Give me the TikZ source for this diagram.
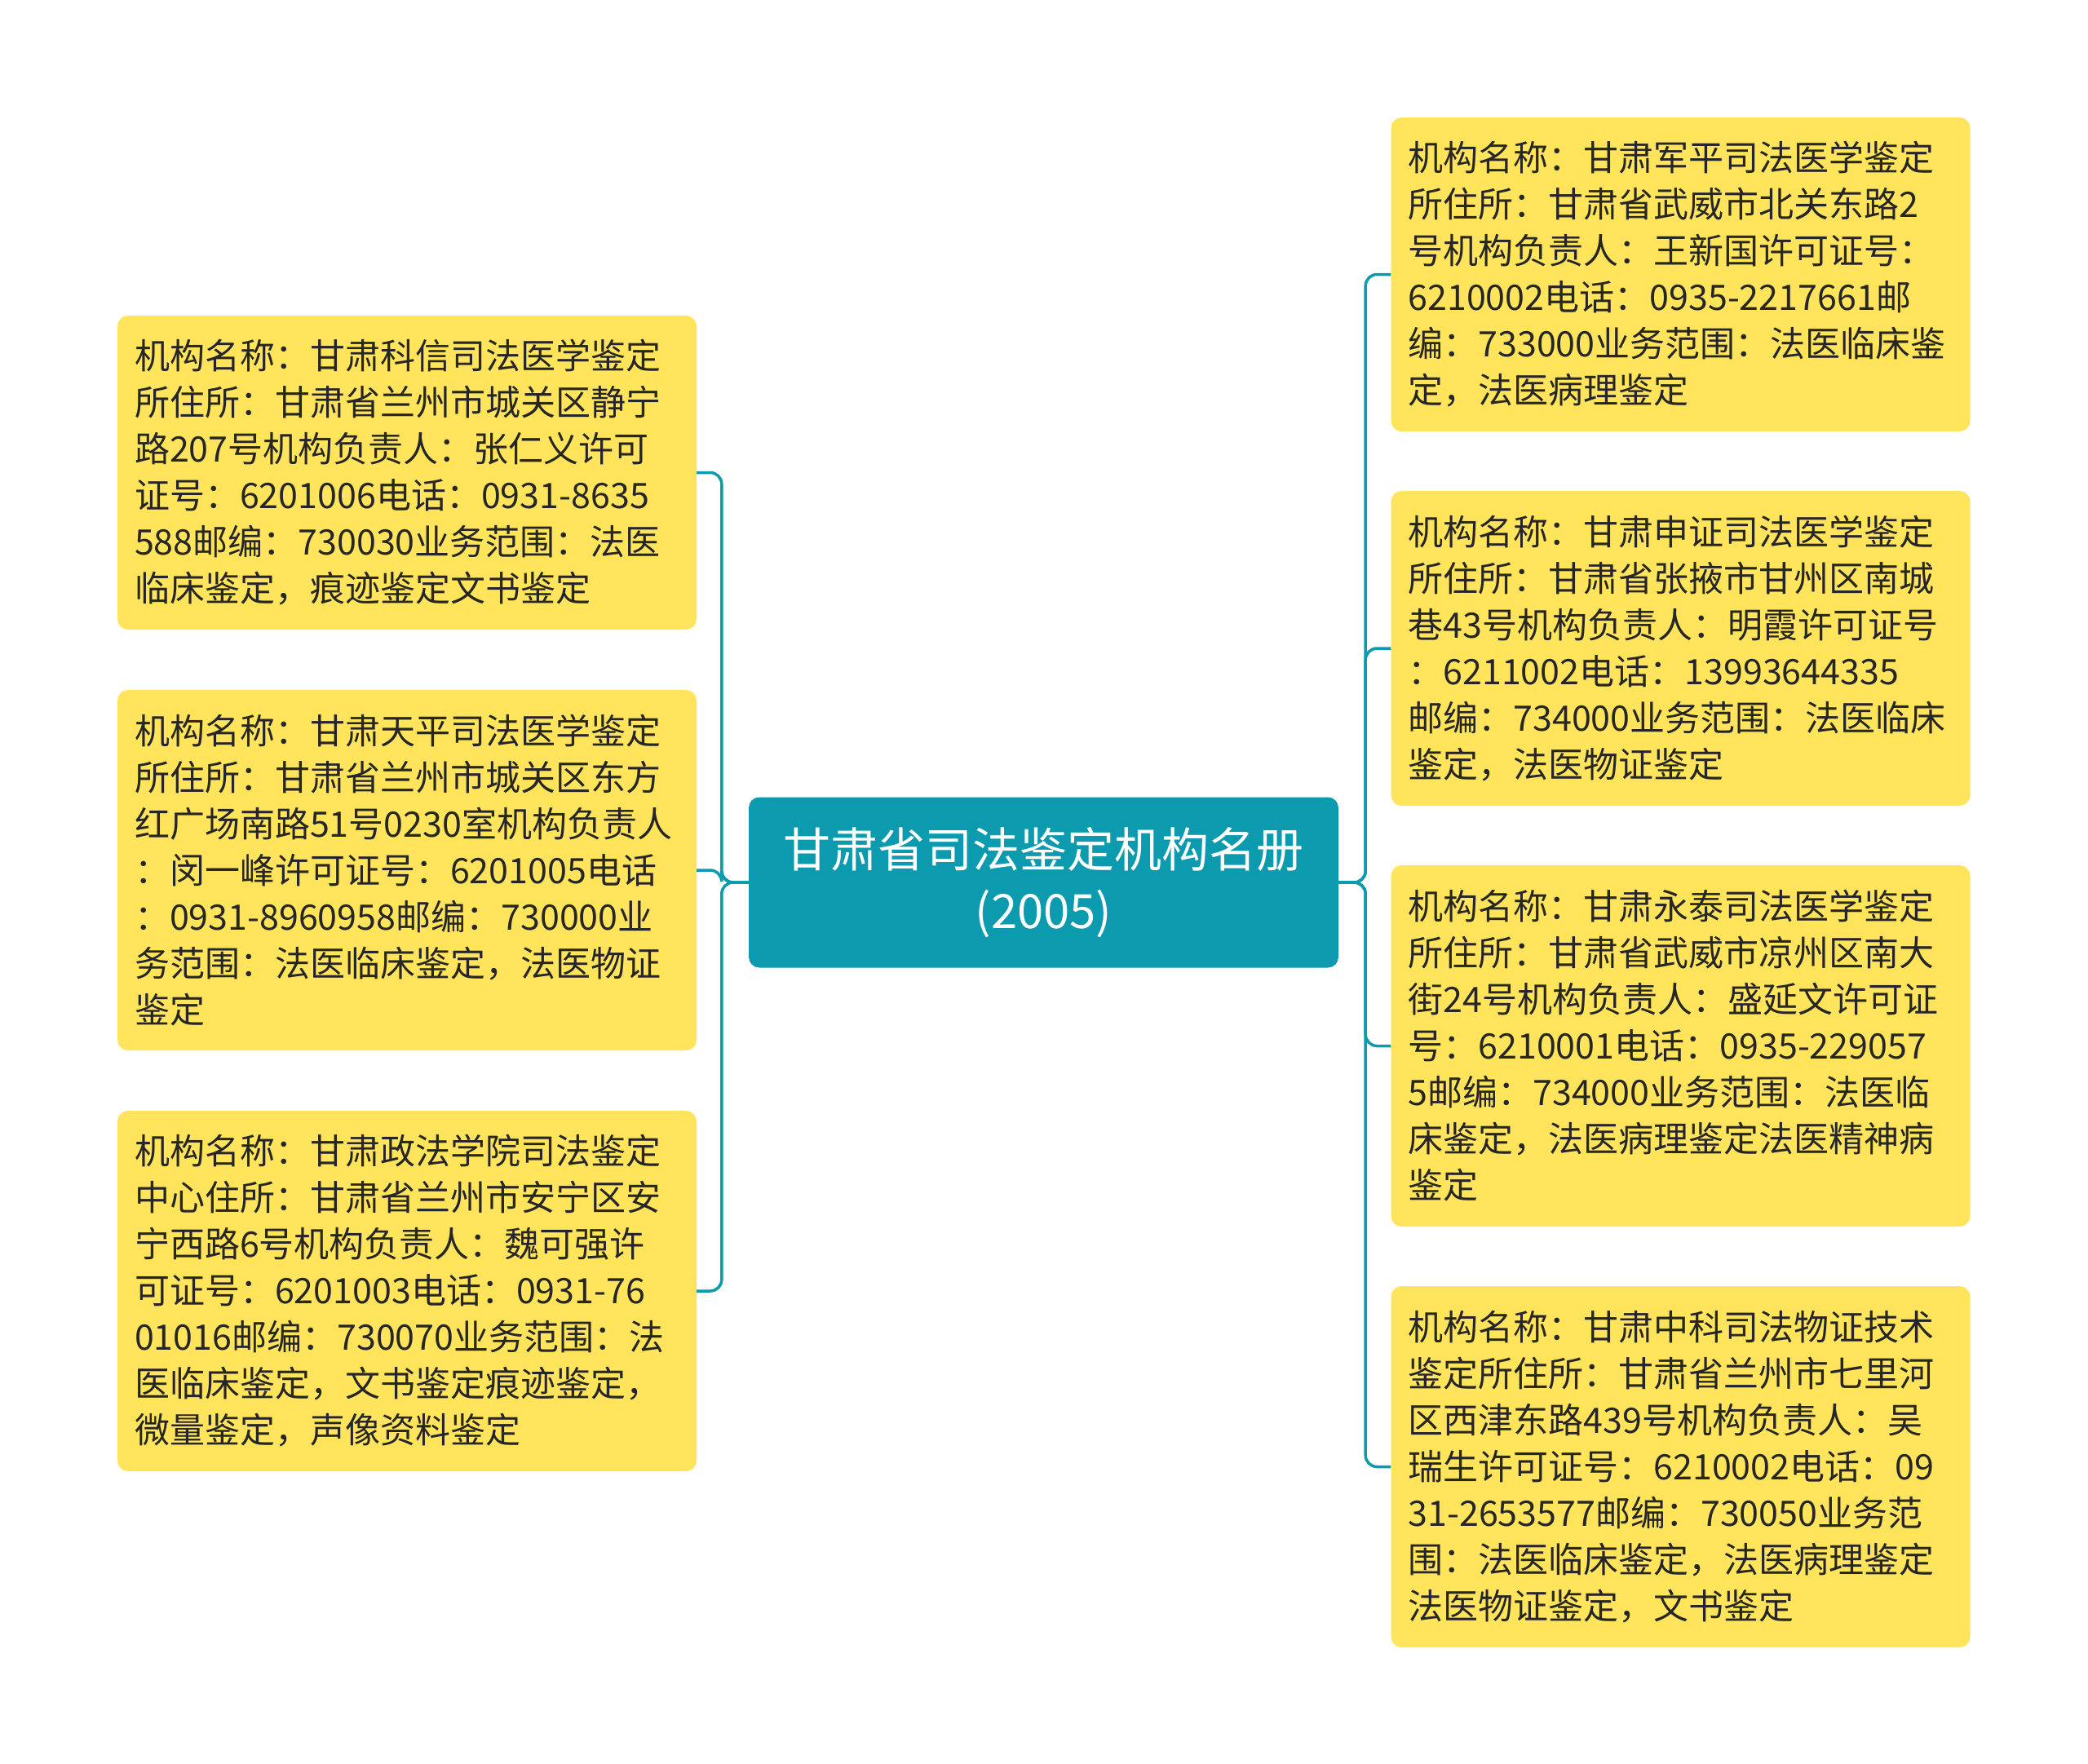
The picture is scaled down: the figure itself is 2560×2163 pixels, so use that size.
\documentclass[tikz,border=0pt]{standalone}
\usepackage{fontspec}
\setmainfont{Noto Sans CJK SC}
\definecolor{mapteal}{HTML}{0B9AAE}
\definecolor{mapyellow}{HTML}{FFE45C}
\definecolor{maptext}{HTML}{262626}
\usetikzlibrary{positioning}

\begin{document}
\begin{tikzpicture}[x=1pt, y=-1pt,
    infobox/.style={rectangle, rounded corners=13pt, fill=mapyellow, text=maptext,
      align=left, text width=668pt, inner xsep=21pt, inner ysep=0pt,
      font=\fontsize{43}{57}\selectfont},
    rootbox/.style={rectangle, rounded corners=13pt, fill=mapteal, text=white,
      align=center, minimum width=723pt, minimum height=209pt,
      font=\fontsize{58}{75}\selectfont},
    link/.style={draw=mapteal, line width=3.5pt, rounded corners=14pt}]
      \useasboundingbox (0,0) rectangle (2560,2163);

      \node (root) [rootbox] at (1279.5,1082) {甘肃省司法鉴定机构名册\\(2005)};

      % left side
      \node (left1) [infobox, minimum height=385pt] at (499,579.5) {机构名称：甘肃科信司法医学鉴定\\所住所：甘肃省兰州市城关区静宁\\路207号机构负责人：张仁义许可\\证号：6201006电话：0931-8635\\588邮编：730030业务范围：法医\\临床鉴定，痕迹鉴定文书鉴定};
      \node (left2) [infobox, minimum height=442pt] at (499,1067) {机构名称：甘肃天平司法医学鉴定\\所住所：甘肃省兰州市城关区东方\\红广场南路51号0230室机构负责人\\：闵一峰许可证号：6201005电话\\：0931-8960958邮编：730000业\\务范围：法医临床鉴定，法医物证\\鉴定};
      \node (left3) [infobox, minimum height=442pt] at (499,1583) {机构名称：甘肃政法学院司法鉴定\\中心住所：甘肃省兰州市安宁区安\\宁西路6号机构负责人：魏可强许\\可证号：6201003电话：0931-76\\01016邮编：730070业务范围：法\\医临床鉴定，文书鉴定痕迹鉴定，\\微量鉴定，声像资料鉴定};

      % right side
      \node (right1) [infobox, minimum height=385pt] at (2060.5,336.5) {机构名称：甘肃军平司法医学鉴定\\所住所：甘肃省武威市北关东路2\\号机构负责人：王新国许可证号：\\6210002电话：0935-2217661邮\\编：733000业务范围：法医临床鉴\\定，法医病理鉴定};
      \node (right2) [infobox, minimum height=386pt] at (2060.5,795) {机构名称：甘肃申证司法医学鉴定\\所住所：甘肃省张掖市甘州区南城\\巷43号机构负责人：明霞许可证号\\：6211002电话：13993644335\\邮编：734000业务范围：法医临床\\鉴定，法医物证鉴定};
      \node (right3) [infobox, minimum height=443pt] at (2060.5,1282.5) {机构名称：甘肃永泰司法医学鉴定\\所住所：甘肃省武威市凉州区南大\\街24号机构负责人：盛延文许可证\\号：6210001电话：0935-229057\\5邮编：734000业务范围：法医临\\床鉴定，法医病理鉴定法医精神病\\鉴定};
      \node (right4) [infobox, minimum height=443pt] at (2060.5,1798.5) {机构名称：甘肃中科司法物证技术\\鉴定所住所：甘肃省兰州市七里河\\区西津东路439号机构负责人：吴\\瑞生许可证号：6210002电话：09\\31-2653577邮编：730050业务范\\围：法医临床鉴定，法医病理鉴定\\法医物证鉴定，文书鉴定};

      \draw [link] (root.west) -- ++(-33,0) |- (left1.east);
      \draw [link] (root.west) -- ++(-33,0) |- (left2.east);
      \draw [link] (root.west) -- ++(-33,0) |- (left3.east);
      \draw [link] (root.east) -- ++(33,0) |- (right1.west);
      \draw [link] (root.east) -- ++(33,0) |- (right2.west);
      \draw [link] (root.east) -- ++(33,0) |- (right3.west);
      \draw [link] (root.east) -- ++(33,0) |- (right4.west);
\end{tikzpicture}
\end{document}
